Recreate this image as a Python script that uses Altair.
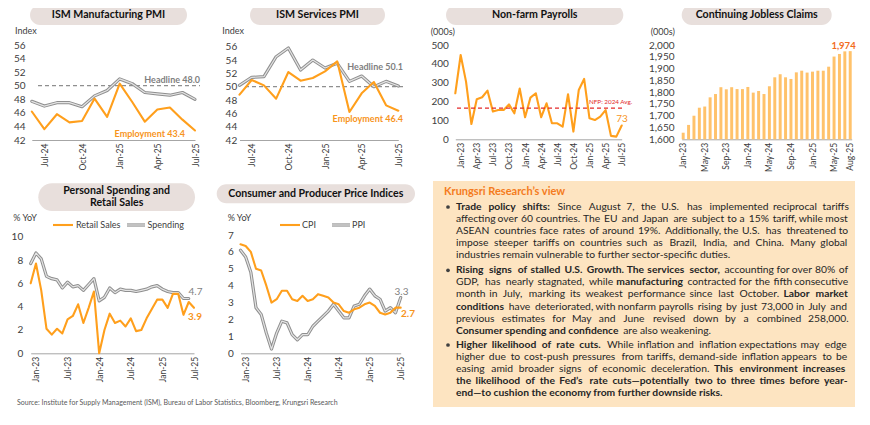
import altair as alt
import pandas as pd

W, H = 854, 409
FONT = "Lato"
ORANGE = "#FF9F1C"
ORANGE_TXT = "#F7941D"
ORANGE_HEAD = "#F47B20"
GRAY_OUT = "#8F8F8F"
GRAY_IN = "#E4E4E4"
GRAY_TXT = "#7F7F7F"
AXIS_TXT = "#404040"
PILL = "#E8DFDC"
BOX = "#FDE4C1"
BAR = "#FFC26B"
RED = "#E32A2A"
BODY = "#262626"


def month_labels(start, end):
    return list(pd.date_range(start, end, freq="MS").strftime("%b-%y"))


# ---------------- data ----------------
mfg_months = month_labels("2024-06-01", "2025-07-01")
mfg_headline = [47.7, 47.0, 47.5, 47.5, 46.9, 48.5, 49.3, 51.0, 50.3, 49.0, 48.8, 48.6, 49.0, 48.0]
mfg_employment = [46.2, 43.6, 45.8, 44.6, 44.8, 48.1, 45.4, 50.3, 47.6, 44.7, 46.5, 46.8, 45.0, 43.4]

svc_months = month_labels("2024-06-01", "2025-07-01")
svc_headline = [50.2, 51.4, 51.5, 54.5, 55.8, 52.5, 54.0, 52.8, 53.5, 50.8, 51.6, 50.0, 50.8, 50.1]
svc_employment = [48.8, 51.0, 50.2, 48.2, 52.2, 50.9, 51.3, 52.3, 53.8, 46.2, 49.0, 50.7, 47.2, 46.4]
pmi_ticks = ["Jul-24", "Oct-24", "Jan-25", "Apr-25", "Jul-25"]

nfp_months = month_labels("2022-12-01", "2025-07-01")
nfp_values = [244, 447, 306, 81, 212, 223, 258, 147, 155, 155, 185, 138, 269,
              117, 221, 244, 117, 191, 85, 85, 67, 239, 41, 261, 320,
              111, 102, 120, 155, 18, 14, 73]
nfp_avg_2024 = 165
nfp_ticks = ["Jan-23", "Apr-23", "Jul-23", "Oct-23", "Jan-24", "Apr-24", "Jul-24",
             "Oct-24", "Jan-25", "Apr-25", "Jul-25"]

claims_months = month_labels("2023-01-01", "2025-08-01")
claims_values = [1628, 1661, 1700, 1734, 1739, 1778, 1792, 1821, 1812, 1821, 1813, 1813,
                 1822, 1798, 1805, 1792, 1825, 1863, 1876, 1863, 1856, 1884, 1891, 1883,
                 1887, 1891, 1891, 1908, 1951, 1962, 1973, 1974]
claims_ticks = ["Jan-23", "May-23", "Sep-23", "Jan-24", "May-24", "Sep-24", "Jan-25", "May-25", "Aug-25"]

spend_months = month_labels("2022-12-01", "2025-07-01")
retail_sales = [6.0, 7.7, 5.4, 2.1, 1.6, 2.1, 1.7, 2.9, 3.2, 4.2, 2.6, 3.9, 5.3,
                0.0, 2.0, 3.4, 2.6, 2.8, 2.3, 3.0, 1.9, 2.0, 3.0, 3.8, 4.6,
                4.6, 3.9, 5.1, 5.1, 3.3, 4.4, 3.9]
spending = [7.7, 8.6, 8.1, 6.6, 6.4, 6.3, 5.6, 6.1, 5.7, 5.8, 5.4, 5.9, 6.4,
            4.5, 4.8, 5.6, 5.2, 5.5, 5.4, 5.4, 5.3, 5.4, 5.5, 5.7, 5.8,
            5.5, 5.3, 5.2, 5.2, 4.7, 4.7, None]

price_months = month_labels("2022-12-01", "2025-07-01")
cpi = [6.45, 6.35, 6.0, 5.0, 4.9, 4.0, 3.0, 3.2, 3.7, 3.7, 3.2, 3.1, 3.4,
       3.1, 3.2, 3.5, 3.4, 3.3, 3.0, 2.9, 2.5, 2.4, 2.6, 2.7, 2.9,
       3.0, 2.8, 2.4, 2.3, 2.4, 2.7, 2.7]
ppi = [6.1, 5.7, 4.8, 2.7, 2.3, 1.2, 0.25, 1.2, 1.9, 1.8, 1.1, 0.8, 1.1,
       1.1, 1.6, 1.9, 2.2, 2.5, 2.9, 2.5, 2.1, 2.1, 2.8, 2.9, 3.4,
       3.8, 3.4, 3.2, 2.5, 2.7, 2.4, 3.3]
half_ticks = ["Jan-23", "Jul-23", "Jan-24", "Jul-24", "Jan-25", "Jul-25"]

DUMMY = pd.DataFrame({"d": [0]})


# ---------------- helpers ----------------
def x_axis(values, axis_y):
    return alt.Axis(orient="bottom", offset=axis_y - H, values=values, labelAngle=270,
                    labelFont=FONT, labelFontSize=8.5, labelColor=AXIS_TXT, labelPadding=3,
                    ticks=False, tickSize=0, domainColor="#A6A6A6", domainWidth=1,
                    grid=False, title=None, labelOverlap=False)


def y_axis(values, right_edge, fmt=None):
    kw = dict(orient="left", offset=-right_edge, values=values, labelFont=FONT,
              labelFontSize=10, labelColor=AXIS_TXT, labelPadding=0, ticks=False,
              tickSize=0, domain=False, grid=False, title=None, labelOverlap=False)
    if fmt:
        kw["format"] = fmt
    return alt.Axis(**kw)


def point_x(domain, r0, r1, ticks, axis_y):
    return alt.X("month:N", sort=None,
                 scale=alt.Scale(type="point", domain=domain, range=[r0, r1], padding=0),
                 axis=x_axis(ticks, axis_y))


def lin_scale(d0, d1, r_bottom, r_top):
    return alt.Scale(domain=[d0, d1], range=[r_bottom, r_top], zero=False, nice=False)


def txt(text, x, y, size=9.5, color=AXIS_TXT, bold=False, align="left"):
    return alt.Chart(DUMMY).mark_text(
        text=text, align=align, baseline="middle", font=FONT, fontSize=size,
        fontWeight="bold" if bold else "normal", color=color
    ).encode(x=alt.value(x), y=alt.value(y))


def pill(x0, x1, y0, y1):
    return alt.Chart(DUMMY).mark_rect(color=PILL, cornerRadius=(y1 - y0) / 2).encode(
        x=alt.value(x0), x2=alt.value(x1), y=alt.value(y0), y2=alt.value(y1))


def hseg(x0, x1, y, color, width):
    return alt.Chart(DUMMY).mark_rule(color=color, strokeWidth=width).encode(
        x=alt.value(x0), x2=alt.value(x1), y=alt.value(y))


def line(base, x, field, ys, ya, color, width):
    return base.mark_line(color=color, strokeWidth=width, strokeJoin="round", strokeCap="round").encode(
        x=x, y=alt.Y(f"{field}:Q", scale=ys, axis=ya))


def dashed(yv, ys, ya, x0, x1, color, width=1.2):
    return alt.Chart(DUMMY).mark_rule(color=color, strokeDash=[4, 3], strokeWidth=width).encode(
        y=alt.YDatum(yv, scale=ys, axis=ya), x=alt.value(x0), x2=alt.value(x1))


# ---------------- panel 1: ISM Manufacturing ----------------
x1 = point_x(mfg_months, 23.8, 187, pmi_ticks, 132)
ys1 = lin_scale(42, 56, 132, 37)
ya1 = y_axis(list(range(42, 57, 2)), 17)
b1 = alt.Chart(pd.DataFrame({"month": mfg_months, "headline": mfg_headline, "employment": mfg_employment}))
p1 = alt.layer(
    dashed(50, ys1, ya1, 30, 192, GRAY_OUT),
    line(b1, x1, "headline", ys1, ya1, GRAY_OUT, 3.2),
    line(b1, x1, "headline", ys1, ya1, GRAY_IN, 1.2),
    line(b1, x1, "employment", ys1, ya1, ORANGE, 2.1),
)

# ---------------- panel 2: ISM Services ----------------
x2 = point_x(svc_months, 231.5, 390.3, pmi_ticks, 132)
ys2 = lin_scale(42, 56, 132, 38.7)
ya2 = y_axis(list(range(42, 57, 2)), 228.7)
b2 = alt.Chart(pd.DataFrame({"month": svc_months, "headline": svc_headline, "employment": svc_employment}))
p2 = alt.layer(
    dashed(50, ys2, ya2, 237, 395, GRAY_OUT),
    line(b2, x2, "headline", ys2, ya2, GRAY_OUT, 3.2),
    line(b2, x2, "headline", ys2, ya2, GRAY_IN, 1.2),
    line(b2, x2, "employment", ys2, ya2, ORANGE, 2.1),
)

# ---------------- panel 3: Non-farm payrolls ----------------
x3 = point_x(nfp_months, 447.3, 613.7, nfp_ticks, 131.3)
ys3 = lin_scale(0, 500, 131.3, 37)
ya3 = y_axis(list(range(0, 501, 100)), 440.3)
b3 = alt.Chart(pd.DataFrame({"month": nfp_months, "nfp": nfp_values}))
p3 = alt.layer(
    line(b3, x3, "nfp", ys3, ya3, ORANGE, 2.1),
    dashed(nfp_avg_2024, ys3, ya3, 449, 617, RED, 1.3),
)

# ---------------- panel 4: Continuing claims ----------------
x4 = alt.X("month:N", sort=None,
           scale=alt.Scale(type="band", domain=claims_months, range=[673.7, 843.7],
                           paddingInner=0.45, paddingOuter=0),
           axis=x_axis(claims_ticks, 131.3))
ys4 = lin_scale(1600, 2000, 131.3, 37)
ya4 = y_axis(list(range(1600, 2001, 50)), 666, ",.0f")
p4 = alt.Chart(pd.DataFrame({"month": claims_months, "claims": claims_values})).mark_bar(color=BAR).encode(
    x=x4, y=alt.Y("claims:Q", scale=ys4, axis=ya4), y2=alt.Y2Datum(1600))

# ---------------- panel 5: Spending & retail ----------------
x5 = point_x(spend_months, 22.7, 186, half_ticks, 345.3)
ys5 = lin_scale(0, 10, 345.3, 228.7)
ya5 = y_axis(list(range(0, 11, 2)), 14.7)
b5 = alt.Chart(pd.DataFrame({"month": spend_months, "retail": retail_sales, "spending": spending}))
p5 = alt.layer(
    line(b5, x5, "spending", ys5, ya5, GRAY_OUT, 3.2),
    line(b5, x5, "spending", ys5, ya5, GRAY_IN, 1.2),
    line(b5, x5, "retail", ys5, ya5, ORANGE, 2.1),
)

# ---------------- panel 6: CPI / PPI ----------------
x6 = point_x(price_months, 232.5, 392.7, half_ticks, 345.3)
ys6 = lin_scale(0, 7, 345.3, 227)
ya6 = y_axis(list(range(0, 8)), 225.3)
b6 = alt.Chart(pd.DataFrame({"month": price_months, "cpi": cpi, "ppi": ppi}))
p6 = alt.layer(
    line(b6, x6, "ppi", ys6, ya6, GRAY_OUT, 3.2),
    line(b6, x6, "ppi", ys6, ya6, GRAY_IN, 1.2),
    line(b6, x6, "cpi", ys6, ya6, ORANGE, 2.1),
)

# ---------------- decorations & annotations ----------------
deco = [
    pill(22, 179, -3, 17), pill(242, 377, -3, 17), pill(438, 615.3, -3, 17), pill(673.7, 823.7, -3, 17),
    pill(30.3, 187, 175.3, 203), pill(208.7, 407, 176.3, 195.3),
    alt.Chart(DUMMY).mark_rect(color=BOX).encode(
        x=alt.value(425), x2=alt.value(847), y=alt.value(173), y2=alt.value(399)),
]

TS = 10.6
notes = [
    txt("ISM Manufacturing PMI", 100.5, 7, TS, "#111111", True, "center"),
    txt("ISM Services PMI", 309.5, 7, TS, "#111111", True, "center"),
    txt("Non-farm Payrolls", 526.7, 7, TS, "#111111", True, "center"),
    txt("Continuing Jobless Claims", 748.7, 7, TS, "#111111", True, "center"),
    txt("Personal Spending and", 108.7, 183, TS, "#111111", True, "center"),
    txt("Retail Sales", 108.7, 194.5, TS, "#111111", True, "center"),
    txt("Consumer and Producer Price Indices", 307.8, 186, TS, "#111111", True, "center"),
    txt("Index", 7, 22.7, 9),
    txt("Index", 214.3, 22.7, 9),
    txt("(000s)", 422.7, 23.7, 9),
    txt("(000s)", 642.7, 23.7, 9),
    txt("% YoY", 5.3, 210.3, 9),
    txt("% YoY", 219.7, 209.7, 9),
    txt("Headline 48.0", 192, 72, 9, GRAY_TXT, True, "right"),
    txt("Employment 43.4", 177, 126.3, 9, ORANGE_TXT, True, "right"),
    txt("Headline 50.1", 395, 58.7, 9, GRAY_TXT, True, "right"),
    txt("Employment 46.4", 395, 111, 9, ORANGE_TXT, True, "right"),
    txt("NFP: 2024 Avg.", 581, 94, 6.3, RED),
    txt("73", 614, 111, 10, ORANGE_TXT, False, "center"),
    txt("1,974", 835.5, 37.7, 9.5, "#F26B1D", True, "center"),
    txt("4.7", 187.5, 284.3, 10, GRAY_TXT, False, "center"),
    txt("3.9", 187, 308.7, 10, ORANGE_TXT, True, "center"),
    txt("3.3", 393.5, 283.7, 10, GRAY_TXT, False, "center"),
    txt("2.7", 400, 306.3, 10, ORANGE_TXT, True, "center"),
    # legends
    hseg(45, 65, 217, ORANGE, 2.1), txt("Retail Sales", 68, 217, 9),
    hseg(119, 137, 217, GRAY_OUT, 3.2), hseg(119, 137, 217, GRAY_IN, 1.2), txt("Spending", 139.5, 217, 9),
    hseg(272, 292, 217, ORANGE, 2.1), txt("CPI", 294, 217, 9),
    hseg(324, 342, 217, GRAY_OUT, 3.2), hseg(324, 342, 217, GRAY_IN, 1.2), txt("PPI", 344, 217, 9),
    txt("Source: Institute for Supply Management (ISM), Bureau of Labor Statistics, Bloomberg, Krungsri Research",
        9, 395, 7, "#595959"),
    txt("Krungsri Research’s view", 436, 184, 11, ORANGE_HEAD, True),
]

# ---------------- commentary box (justified text) ----------------
PARAS = [
    [
        [("Trade policy shifts:", True), ("Since August 7, the U.S. has implemented reciprocal tariffs", False)],
        [("affecting over 60 countries. The EU and Japan are subject to a 15% tariff, while most", False)],
        [("ASEAN countries face rates of around 19%. Additionally, the U.S. has threatened to", False)],
        [("impose steeper tariffs on countries such as Brazil, India, and China. Many global", False)],
        [("industries remain vulnerable to further sector-specific duties.", False)],
    ],
    [
        [("Rising signs of stalled U.S. Growth. The services sector,", True), ("accounting for over 80% of", False)],
        [("GDP, has nearly stagnated, while", False), ("manufacturing", True), ("contracted for the fifth consecutive", False)],
        [("month in July, marking its weakest performance since last October.", False), ("Labor market", True)],
        [("conditions", True), ("have deteriorated, with nonfarm payrolls rising by just 73,000 in July and", False)],
        [("previous estimates for May and June revised down by a combined 258,000.", False)],
        [("Consumer spending and confidence", True), ("are also weakening.", False)],
    ],
    [
        [("Higher likelihood of rate cuts.", True), ("While inflation and inflation expectations may edge", False)],
        [("higher due to cost-push pressures from tariffs, demand-side inflation appears to be", False)],
        [("easing amid broader signs of economic deceleration.", False), ("This environment increases", True)],
        [("the likelihood of the Fed’s rate cuts—potentially two to three times before year-", True)],
        [("end—to cushion the economy from further downside risks.", True)],
    ],
]

REG_W = dict(zip("abcdefghijklmnopqrstuvwxyz",
                 [556, 556, 500, 556, 556, 278, 556, 556, 222, 222, 500, 222, 833, 556, 556, 556, 556, 333, 500, 278, 556, 500, 722, 500, 500, 500]))
REG_W.update(zip("ABCDEFGHIJKLMNOPQRSTUVWXYZ",
                 [667, 667, 722, 722, 667, 611, 778, 722, 278, 500, 667, 556, 833, 722, 778, 667, 778, 722, 667, 611, 722, 667, 944, 667, 667, 611]))
REG_W.update({d: 556 for d in "0123456789"})
REG_W.update({" ": 250, ".": 278, ",": 278, ":": 278, ";": 278, "%": 889, "-": 333, "—": 1000, "’": 222, "(": 333, ")": 333})
BOLD_W = dict(zip("abcdefghijklmnopqrstuvwxyz",
                  [556, 611, 556, 611, 556, 333, 611, 611, 278, 278, 556, 278, 889, 611, 611, 611, 611, 389, 556, 333, 611, 556, 778, 556, 556, 500]))
BOLD_W.update(zip("ABCDEFGHIJKLMNOPQRSTUVWXYZ",
                  [722, 722, 722, 722, 667, 611, 778, 722, 278, 556, 722, 611, 833, 722, 778, 667, 778, 722, 667, 611, 722, 667, 944, 667, 667, 611]))
BOLD_W.update({d: 556 for d in "0123456789"})
BOLD_W.update({" ": 250, ".": 278, ",": 278, ":": 333, "%": 889, "-": 333, "—": 1000, "’": 278})

FS = 10.3
LEFT, RIGHT = 448, 839
PARA_Y = [199.0, 262.3, 337.0]
LS = 12.07
REG_F, BOLD_F = 0.97, 0.93


def text_w(s, bold):
    tbl = BOLD_W if bold else REG_W
    f = BOLD_F if bold else REG_F
    return sum(tbl.get(c, 556) for c in s) / 1000 * FS * f


rows = []
for pi, para in enumerate(PARAS):
    for li, segs in enumerate(para):
        y = PARA_Y[pi] + li * LS
        if li < len(para) - 1:
            words = [(w, b) for t, b in segs for w in t.split(" ")]
            widths = [text_w(w, b) for w, b in words]
            gap = (RIGHT - LEFT - sum(widths)) / (len(words) - 1)
            x = LEFT
            for (w, b), wd in zip(words, widths):
                rows.append({"w": w, "x": x, "y": y, "bold": b})
                x += wd + gap
        else:
            x = LEFT
            for t, b in segs:
                rows.append({"w": t, "x": x, "y": y, "bold": b})
                x += text_w(t, b) + text_w(" ", False)

words_df = pd.DataFrame(rows)


def word_layer(df, bold):
    return alt.Chart(df).mark_text(
        align="left", baseline="middle", font=FONT, fontSize=FS,
        fontWeight="bold" if bold else "normal", color=BODY
    ).encode(x=alt.X("x:Q", scale=None, axis=None), y=alt.Y("y:Q", scale=None, axis=None), text="w:N")


bullets = alt.Chart(pd.DataFrame({"y": PARA_Y})).mark_circle(color="#404040", size=14, opacity=1).encode(
    x=alt.value(440), y=alt.Y("y:Q", scale=None, axis=None))

text_layers = [
    word_layer(words_df[~words_df["bold"]], False),
    word_layer(words_df[words_df["bold"]], True),
    bullets,
]

chart = alt.layer(
    *deco, p1, p2, p3, p4, p5, p6, *notes, *text_layers
).resolve_scale(
    x="independent", y="independent"
).properties(
    width=W, height=H, padding=0, autosize=alt.AutoSizeParams(type="none")
).configure_view(stroke=None)

chart.save("out.html", embed_options={"renderer": "svg", "actions": False})
